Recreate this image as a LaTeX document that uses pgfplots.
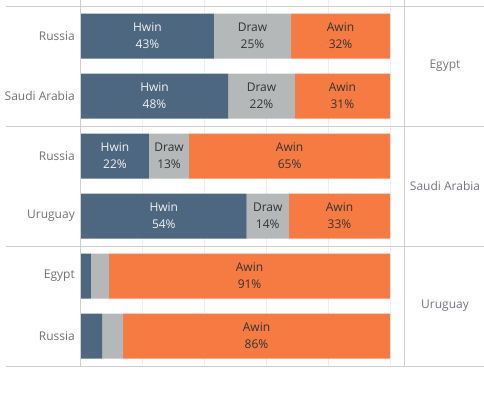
\documentclass[border=0pt]{standalone}
\usepackage{pgfplots}
\pgfplotsset{compat=1.18}
\usepackage{pgfplotstable}
\usepackage{fontspec}
\setmainfont{Open Sans}
\definecolor{hwin}{HTML}{4E6780}
\definecolor{drawc}{HTML}{B5B8B9}
\definecolor{awin}{HTML}{F57B43}
\definecolor{rulec}{HTML}{CFCFCF}
\definecolor{gridc}{HTML}{EEEEEE}
\definecolor{labc}{HTML}{707070}
\definecolor{hdrc}{HTML}{77708A}
\definecolor{dark}{HTML}{333333}
\pgfplotstableread{
row h d a
1 43 25 32
2 47.6 21.6 30.8
3 22 13 65
4 53.6 13.7 32.7
5 3.2 5.9 90.9
6 6.8 6.8 86.4
}\data
\pgfplotsset{base/.style={at={(81bp,-6bp)}, anchor=north west, scale only axis,
  width=323bp, height=360bp, xmin=0, xmax=104.53, ymin=0.5, ymax=6.5, y dir=reverse,
  axis line style={draw=none}, major tick length=0pt}}
\begin{document}
\begin{tikzpicture}
\path[use as bounding box] (0,0) rectangle (484bp,-393bp);
% gridlines
\foreach \gx in {142.8,204.6,266.4,328.2,390} {\draw[gridc, line width=0.8bp] (\gx bp,0) -- (\gx bp,-366bp);}
\begin{axis}[base, xbar stacked, bar width=45bp, xtick=\empty,
  ytick={1,2,3,4,5,6}, yticklabels={Russia,Saudi Arabia,Russia,Uruguay,Egypt,Russia},
  yticklabel style={anchor=east, inner sep=0pt, xshift=-6bp, text=labc, font=\fontsize{12bp}{14bp}\selectfont}]
\addplot[fill=hwin, draw=none] table[x=h, y=row]{\data};
\addplot[fill=drawc, draw=none] table[x=d, y=row]{\data};
\addplot[fill=awin, draw=none] table[x=a, y=row]{\data};
\end{axis}
\begin{axis}[base, xtick=\empty, ytick=\empty, clip=false,
  /pgf/number format/assume math mode=true,
  nodes near coords style={anchor=center, align=center, inner sep=0pt, font=\fontsize{12bp}{17bp}\selectfont}]
\addplot[draw=none, mark=none, skip coords between index={4}{6}, point meta=\thisrow{h},
  nodes near coords={Hwin\\\pgfmathprintnumber[fixed,precision=0,assume math mode=true]{\pgfplotspointmeta}\%},
  nodes near coords style={text=white!95!black}] table[x expr=\thisrow{h}/2, y=row]{\data};
\addplot[draw=none, mark=none, skip coords between index={4}{6}, point meta=\thisrow{d},
  nodes near coords={Draw\\\pgfmathprintnumber[fixed,precision=0,assume math mode=true]{\pgfplotspointmeta}\%},
  nodes near coords style={text=dark}] table[x expr=\thisrow{h}+\thisrow{d}/2, y=row]{\data};
\addplot[draw=none, mark=none, point meta=\thisrow{a},
  nodes near coords={Awin\\\pgfmathprintnumber[fixed,precision=0,assume math mode=true]{\pgfplotspointmeta}\%},
  nodes near coords style={text=dark}] table[x expr=\thisrow{h}+\thisrow{d}+\thisrow{a}/2, y=row]{\data};
\end{axis}
% rules
\foreach \ry in {6,126,246,366} {\draw[rulec, line width=1bp] (6bp,-\ry bp) -- (484bp,-\ry bp);}
\draw[rulec, line width=1bp] (80.5bp,0) -- (80.5bp,-366bp);
\draw[rulec, line width=1bp] (404bp,0) -- (404bp,-366bp);
% row headers
\node[text=hdrc, font=\fontsize{12bp}{14bp}\selectfont] at (445bp,-66bp) {Egypt};
\node[text=hdrc, font=\fontsize{12bp}{14bp}\selectfont] at (445bp,-186bp) {Saudi Arabia};
\node[text=hdrc, font=\fontsize{12bp}{14bp}\selectfont] at (445bp,-306bp) {Uruguay};
\end{tikzpicture}
\end{document}
